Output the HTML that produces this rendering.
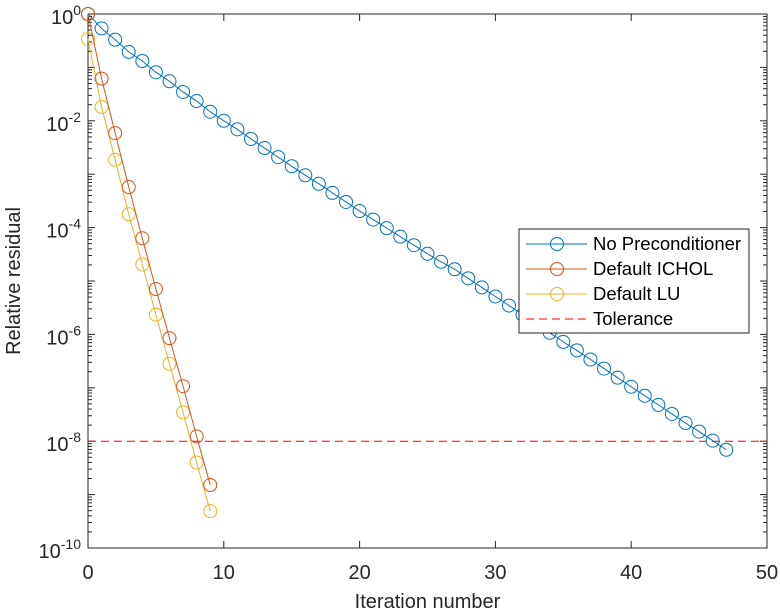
<!DOCTYPE html>
<html><head><meta charset="utf-8"><style>
html,body{margin:0;padding:0;background:#fff;}
svg{display:block;font-family:"Liberation Sans",Arial,sans-serif;}
</style></head><body>
<svg id="chart" width="780" height="612" viewBox="0 0 780 612" xmlns="http://www.w3.org/2000/svg"></svg>
<script>
const xTicks = [0, 10, 20, 30, 40, 50];
const yTickExps = [0, -2, -4, -6, -8, -10];
const noPrecLog = [0,-0.27,-0.48,-0.71,-0.88,-1.09,-1.26,-1.46,-1.63,-1.83,-2.00,-2.16,-2.34,-2.51,-2.68,-2.85,-3.02,-3.18,-3.35,-3.52,-3.69,-3.85,-4.01,-4.17,-4.33,-4.49,-4.64,-4.78,-4.95,-5.12,-5.29,-5.46,-5.63,-5.80,-5.97,-6.14,-6.30,-6.47,-6.64,-6.81,-6.98,-7.15,-7.32,-7.49,-7.66,-7.82,-7.99,-8.16];
const icholLog = [0,-1.21,-2.23,-3.24,-4.20,-5.15,-6.07,-6.97,-7.91,-8.82];
const luLog = [-0.47,-1.74,-2.73,-3.75,-4.69,-5.63,-6.55,-7.46,-8.40,-9.31];
const toleranceLog = -8;
const seriesNames = ["No Preconditioner", "Default ICHOL", "Default LU", "Tolerance"];

const NS = "http://www.w3.org/2000/svg";
const svg = document.getElementById("chart");
const L = 88, R = 767, T = 14, B = 548;
const xs = v => L + (v - 0) / 50 * (R - L);
const ys = lg => T + (0 - lg) / 10 * (B - T);
function mk(tag, attrs, parent) {
  const e = document.createElementNS(NS, tag);
  for (const k in attrs) e.setAttribute(k, attrs[k]);
  (parent || svg).appendChild(e);
  return e;
}
const frame = mk("rect", {x: L, y: T, width: R - L, height: B - T, fill: "none", stroke: "#262626", "stroke-width": 1});


xTicks.forEach(v => {
  const x = xs(v);
  mk("line", {x1: x, y1: B, x2: x, y2: B - 7, stroke: "#262626"});
  mk("line", {x1: x, y1: T, x2: x, y2: T + 7, stroke: "#262626"});
  const t = mk("text", {x: x, y: 579, "text-anchor": "middle", "font-size": 20, fill: "#262626"});
  t.textContent = v;
  
  
});
for (let d = 0; d >= -10; d--) {
  const y = ys(d);
  mk("line", {x1: L, y1: y, x2: L + 7, y2: y, stroke: "#262626"});
  mk("line", {x1: R, y1: y, x2: R - 7, y2: y, stroke: "#262626"});
  if (d > -10) for (let m = 2; m <= 9; m++) {
    const ym = ys(d - 1 + Math.log10(m));
    mk("line", {x1: L, y1: ym, x2: L + 4, y2: ym, stroke: "#262626"});
    mk("line", {x1: R, y1: ym, x2: R - 4, y2: ym, stroke: "#262626"});
  }
}
yTickExps.forEach(e => {
  const y = ys(e);
  const t = mk("text", {x: 81, y: y + 10, "text-anchor": "end", "font-size": 20, fill: "#262626"});
  
  
  const b = mk("tspan", {}, t); b.textContent = "10";
  const s = mk("tspan", {"font-size": 14, dy: -9}, t); s.textContent = e;
});
const xt = mk("text", {x: xs(25), y: 608, "text-anchor": "middle", "font-size": 20, fill: "#262626"});
xt.textContent = "Iteration number";


const yt = mk("text", {x: 0, y: 0, "text-anchor": "middle", "font-size": 20, fill: "#262626", transform: "translate(20,281) rotate(-90)"});
yt.textContent = "Relative residual";



const tol = mk("line", {x1: L, y1: ys(toleranceLog), x2: R, y2: ys(toleranceLog), stroke: "#FF0000", "stroke-width": 1, "stroke-dasharray": "8,5"});



function series(vals, color, name) {
  const g = mk("g", {});
  
  
  const pts = vals.map((v, i) => xs(i).toFixed(2) + "," + ys(v).toFixed(2)).join(" ");
  mk("polyline", {points: pts, fill: "none", stroke: color, "stroke-width": 1}, g);
  vals.forEach((v, i) => {
    const c = mk("circle", {cx: xs(i), cy: ys(v), r: 6.5, fill: "none", stroke: color, "stroke-width": 1}, g);
    
    
  });
}
series(noPrecLog, "#0072BD", "series-no-preconditioner");
series(luLog, "#EDB120", "series-default-lu");
series(icholLog, "#D95319", "series-default-ichol");

const lg = mk("g", {});


mk("rect", {x: 519, y: 229, width: 230, height: 104, fill: "#fff", stroke: "#262626", "stroke-width": 1}, lg);
const colors = ["#0072BD", "#D95319", "#EDB120", "#FF0000"];
const rowsY = [244, 269, 294, 319];
seriesNames.forEach((n, i) => {
  const y = rowsY[i];
  const e = mk("g", {}, lg);
  
  
  if (i < 3) {
    mk("line", {x1: 526, y1: y, x2: 587, y2: y, stroke: colors[i]}, e);
    mk("circle", {cx: 557, cy: y, r: 6.5, fill: "none", stroke: colors[i]}, e);
  } else {
    mk("line", {x1: 526, y1: y, x2: 587, y2: y, stroke: colors[i], "stroke-dasharray": "8,5"}, e);
  }
  const t = mk("text", {x: 593, y: y + 6, "font-size": 18.5, fill: "#000"}, e);
  t.textContent = n;
});
</script>
</body></html>
